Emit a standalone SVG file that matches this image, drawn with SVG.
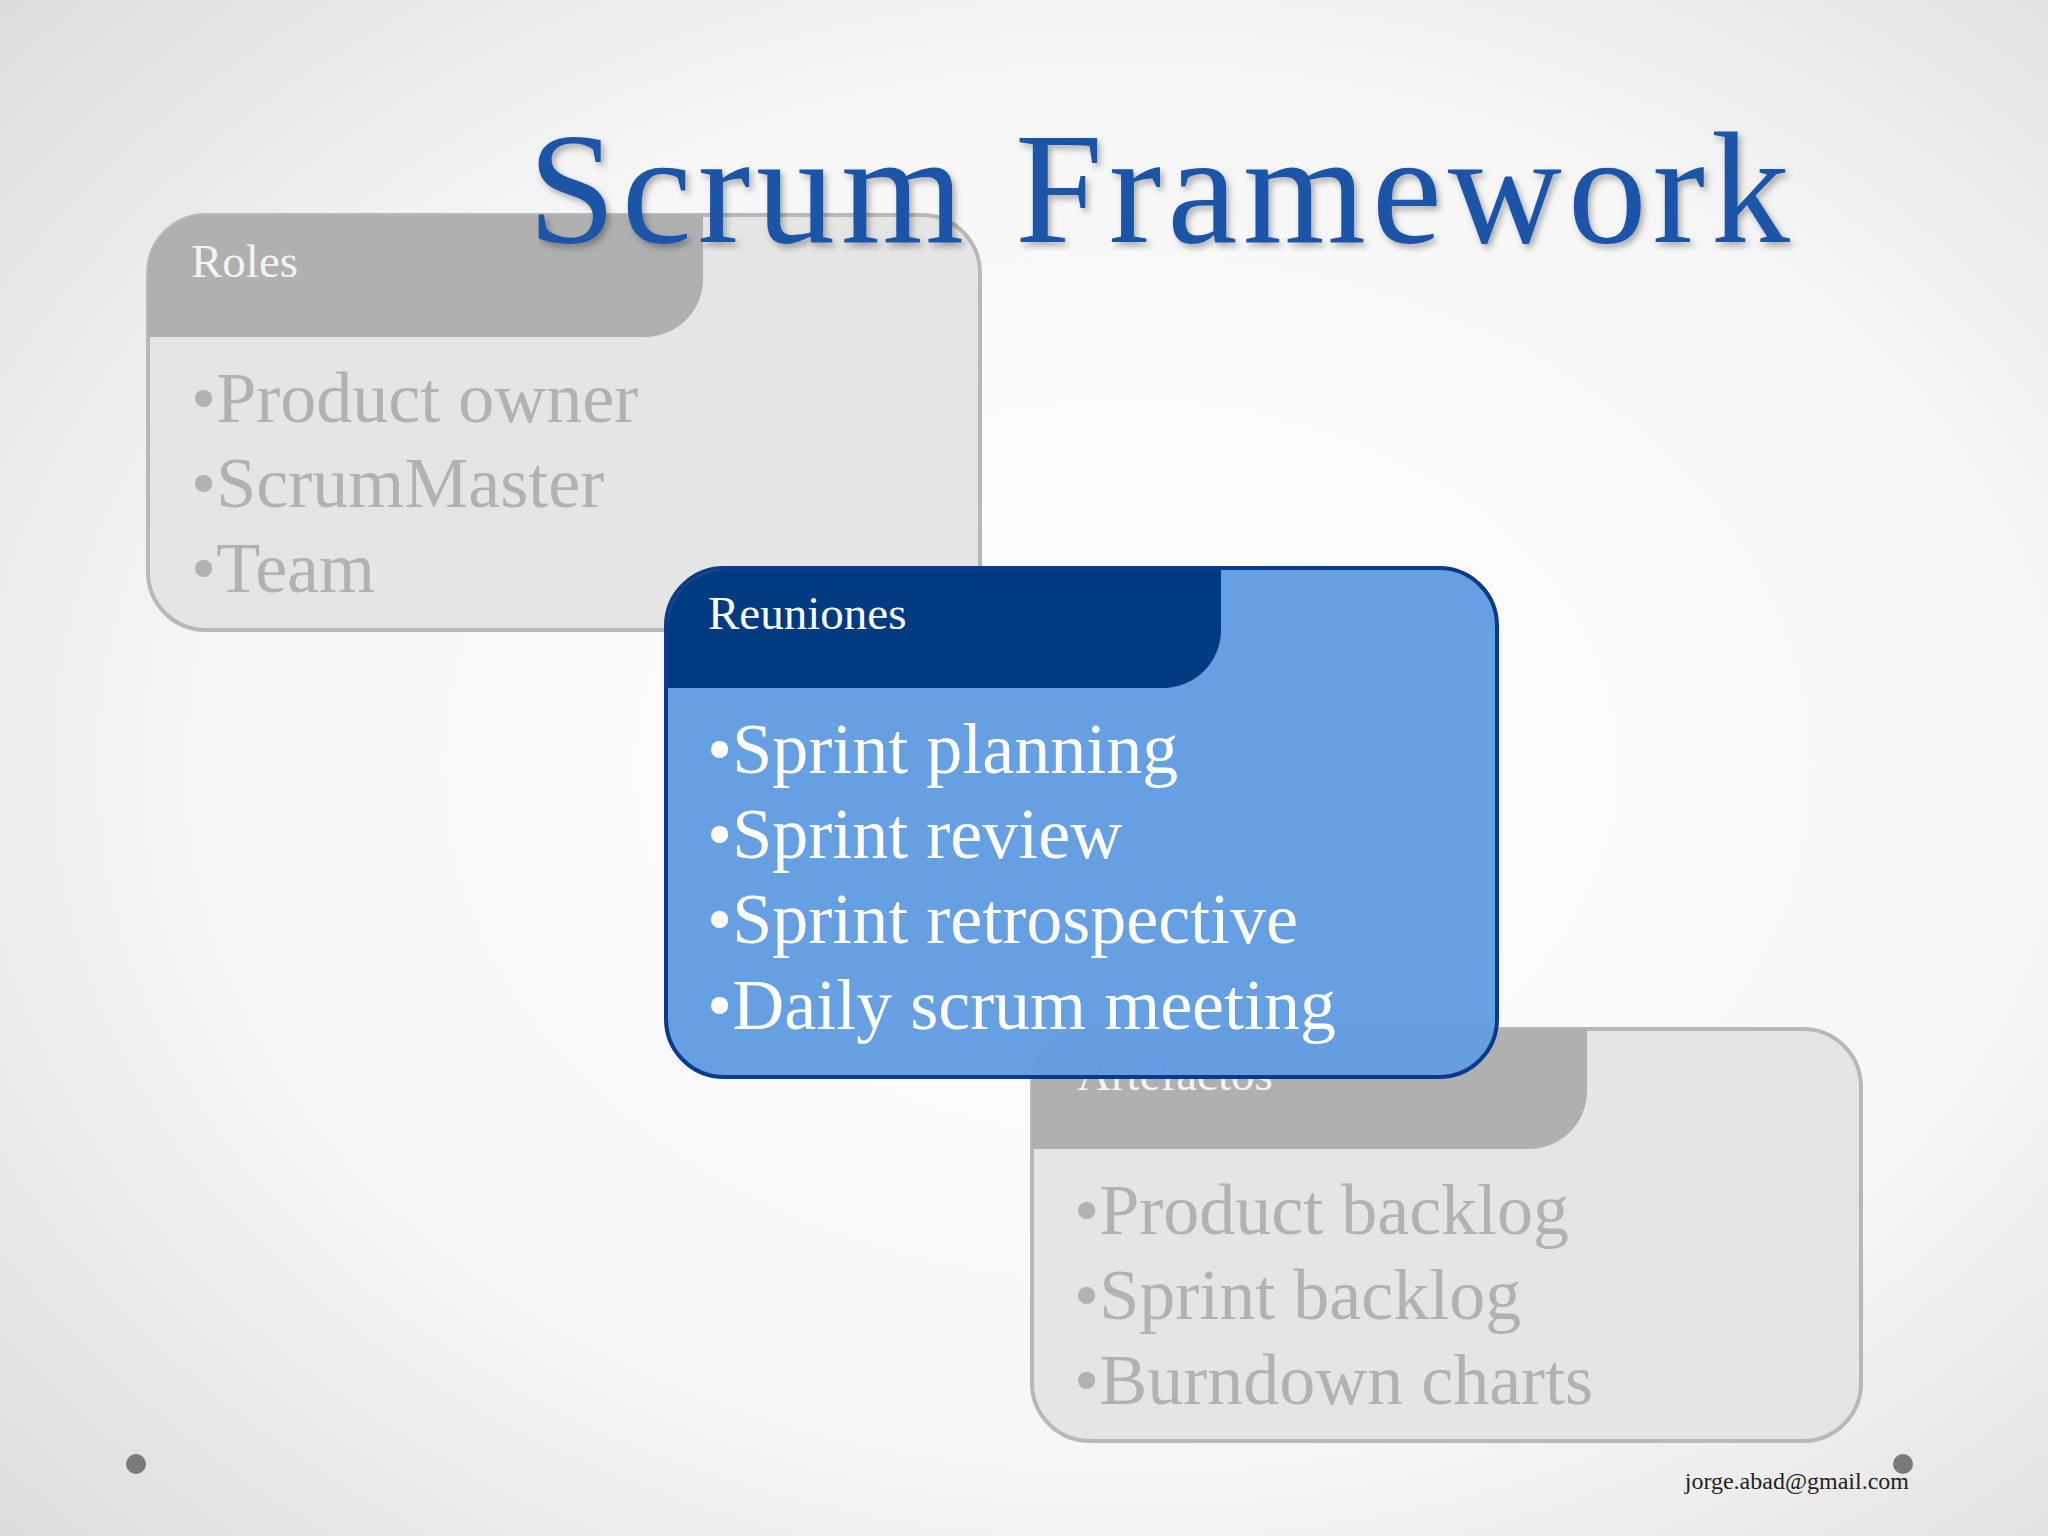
<svg xmlns="http://www.w3.org/2000/svg" width="2048" height="1536" viewBox="0 0 2048 1536">
<style>
.f{font-family:"Liberation Serif","DejaVu Serif",serif}
.gray{fill:#b2b2b2}
.hd{font-size:47px}
.it{font-size:72px}
</style>
<defs>
<radialGradient id="bg" cx="0.55" cy="0.5" r="0.75">
<stop offset="0" stop-color="#ffffff"/><stop offset="0.6" stop-color="#f6f6f6"/><stop offset="1" stop-color="#dcdcdc"/>
</radialGradient>
<filter id="sh" x="-5%" y="-5%" width="110%" height="120%"><feDropShadow dx="3" dy="4" stdDeviation="3" flood-color="#000" flood-opacity="0.3"/></filter>
</defs>
<rect width="2048" height="1536" fill="url(#bg)"/>
<g id="roles">
<rect x="148" y="215" width="832" height="415" rx="58" fill="#e5e5e5" stroke="#b8b8b8" stroke-width="4"/>
<path d="M148 337 V273 A58 58 0 0 1 206 215 H703 V279 A58 58 0 0 1 645 337 Z" fill="#b0b0b0"/>
<text class="f hd" x="191" y="277" fill="#f4f4f4">Roles</text>
<text class="f it gray" x="191" y="422">•Product owner</text>
<text class="f it gray" x="191" y="507">•ScrumMaster</text>
<text class="f it gray" x="191" y="592">•Team</text>
</g>
<g id="artefactos">
<rect x="1032" y="1029" width="829" height="412" rx="58" fill="#e5e5e5" stroke="#b8b8b8" stroke-width="4"/>
<path d="M1032 1149 V1087 A58 58 0 0 1 1090 1029 H1587 V1091 A58 58 0 0 1 1529 1149 Z" fill="#b0b0b0"/>
<text class="f hd" x="1077" y="1090" fill="#f4f4f4">Artefactos</text>
<text class="f it gray" x="1074" y="1234">•Product backlog</text>
<text class="f it gray" x="1074" y="1319">•Sprint backlog</text>
<text class="f it gray" x="1074" y="1404">•Burndown charts</text>
</g>
<g id="reuniones">
<rect x="666" y="568" width="831" height="509" rx="58" fill="#629ce2" fill-opacity="0.97" stroke="#0a3a8a" stroke-width="4"/>
<path d="M668 688 V626 A56 56 0 0 1 724 570 H1221 V630 A58 58 0 0 1 1163 688 Z" fill="#003a80"/>
<text class="f hd" x="708" y="629" fill="#ffffff">Reuniones</text>
<text class="f it" x="707" y="773" fill="#fff">•Sprint planning</text>
<text class="f it" x="707" y="858" fill="#fff">•Sprint review</text>
<text class="f it" x="707" y="943" fill="#fff">•Sprint retrospective</text>
<text class="f it" x="707" y="1029" fill="#fff">•Daily scrum meeting</text>
</g>
<text class="f" x="528" y="242" font-size="158" fill="#1f55a8" filter="url(#sh)" textLength="1262">Scrum Framework</text>
<circle cx="136" cy="1464" r="10" fill="#7a7a7a"/>
<circle cx="1903" cy="1464" r="10" fill="#7a7a7a"/>
<text class="f" x="1909" y="1489" font-size="24" text-anchor="end" fill="#222">jorge.abad@gmail.com</text>
</svg>
